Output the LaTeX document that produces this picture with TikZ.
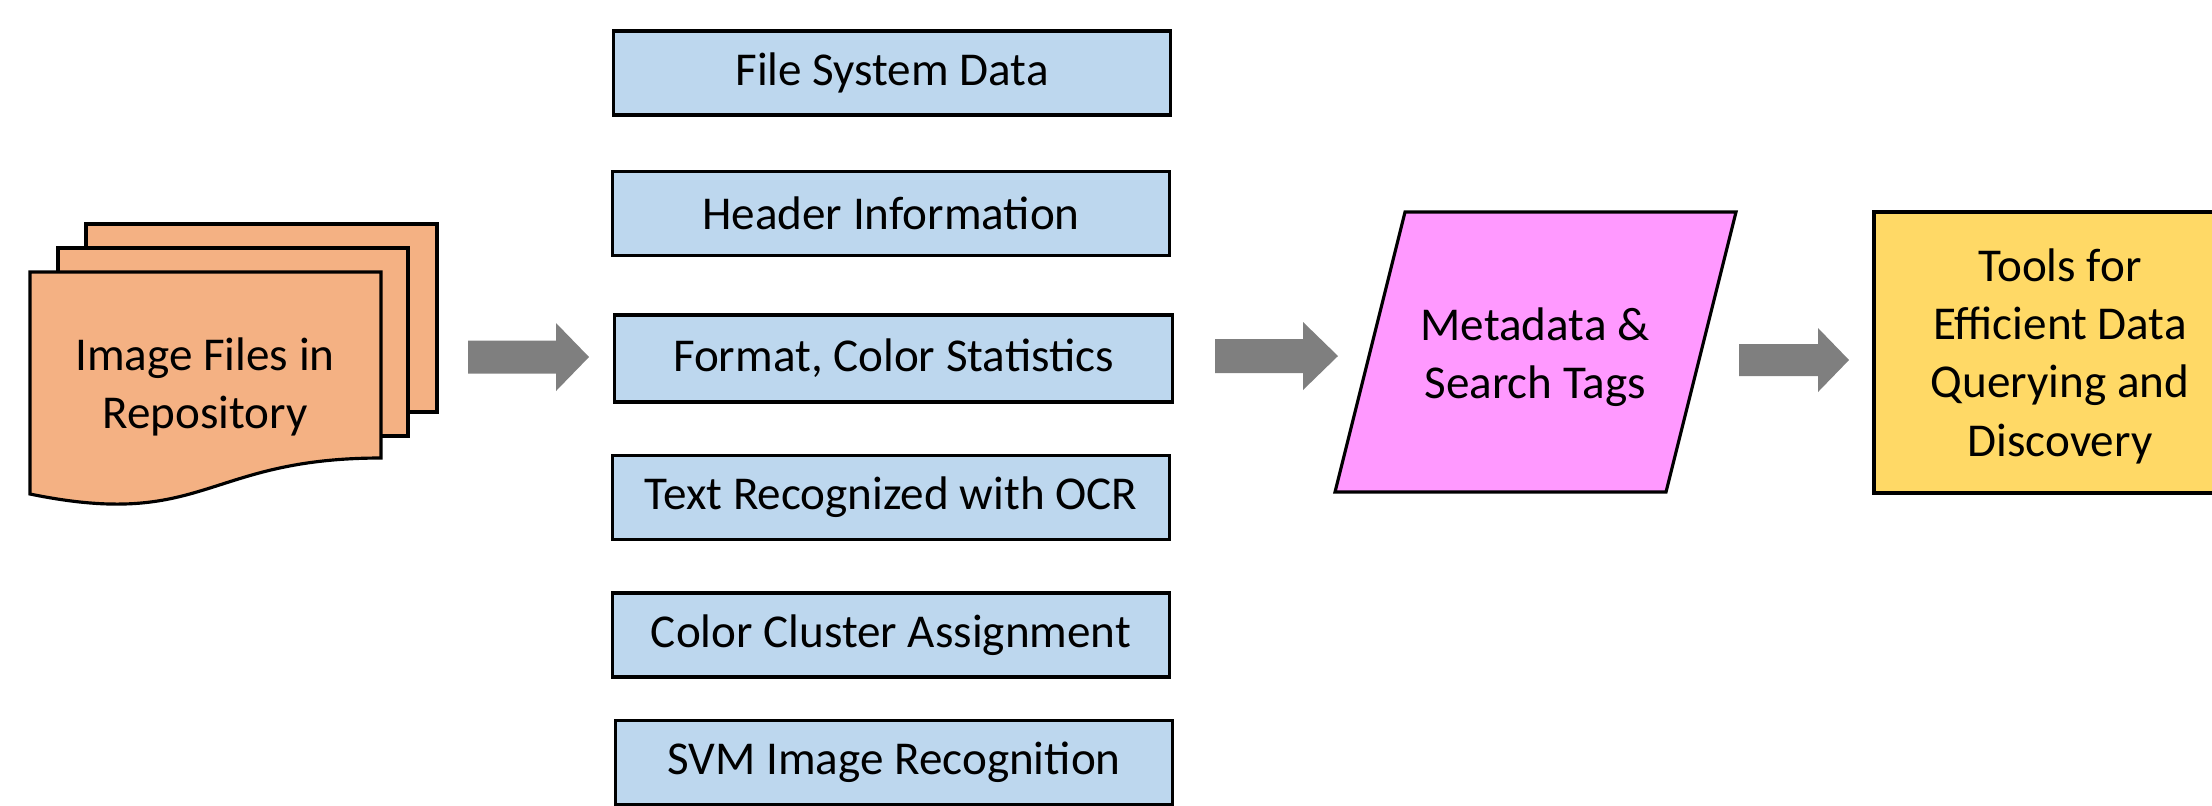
\documentclass[tikz,border=0pt]{standalone}
\usepackage{fontspec}
\setmainfont{Carlito}
\definecolor{docorange}{HTML}{F4B183}
\definecolor{boxblue}{HTML}{BDD7EE}
\definecolor{parapink}{HTML}{FF99FF}
\definecolor{toolyellow}{HTML}{FFD966}
\definecolor{arrowgray}{HTML}{7F7F7F}
\begin{document}
\begin{tikzpicture}[x=0.01cm,y=-0.01cm,
  outline/.style={draw=black,line width=0.9pt},
  lbl/.style={inner sep=0pt,align=center,font=\fontsize{13.4pt}{16.6pt}\selectfont},
  featbox/.style={outline,fill=boxblue,rectangle,inner sep=0pt,minimum width=5.57cm,minimum height=0.84cm,font=\fontsize{13.4pt}{16.6pt}\selectfont},
  blockarrow/.style={fill=arrowgray,draw=none}]
\useasboundingbox (0,0) rectangle (2212,805);
\clip (0,0) rectangle (2212,805);

% stacked documents
\filldraw[outline,fill=docorange] (86,224) rectangle (437,412);
\filldraw[outline,fill=docorange] (58,248) rectangle (408,436);
\filldraw[outline,fill=docorange] (30,272) -- (381,272) -- (381,458)
  .. controls (205,458) and (205,530) .. (30,494) -- cycle;
\node[lbl] (docs) at (205,387) {Image Files in\\Repository};

% feature boxes
\node[featbox] (fs)  at (892,73)    {\raisebox{-1.2pt}{File System Data}};
\node[featbox] (hdr) at (891,213.5) {\raisebox{-1.2pt}{Header Information}};
\node[featbox,minimum height=0.87cm] (fmt) at (893.5,358.5) {\raisebox{-1.2pt}{Format, Color Statistics}};
\node[featbox] (ocr) at (891,497.5) {\raisebox{-1.2pt}{Text Recognized with OCR}};
\node[featbox] (ccl) at (891,635)   {\raisebox{-1.2pt}{Color Cluster Assignment}};
\node[featbox] (svm) at (894,762.5) {\raisebox{-1.2pt}{SVM Image Recognition}};

% metadata parallelogram
\filldraw[outline,fill=parapink] (1405,212) -- (1736,212) -- (1666,492) -- (1335,492) -- cycle;
\node[lbl] (meta) at (1535,357) {Metadata \&\\Search Tags};

% tools box
\filldraw[outline,fill=toolyellow] (1874,212) rectangle (2246,493);
\node[lbl] (tools) at (2060,356) {Tools for\\Efficient Data\\Querying and\\Discovery};

% block arrows
\coordinate (a1) at (468,357);
\coordinate (a2) at (1215,356);
\coordinate (a3) at (1739,360);
\fill[blockarrow] (a1) ++(0,-16.5) -- ++(88,0) -- ++(0,-17.5) -- ++(33,34) -- ++(-33,34) -- ++(0,-17.5) -- ++(-88,0) -- cycle;
\fill[blockarrow] (a2) ++(0,-17) -- ++(88,0) -- ++(0,-17) -- ++(35,34) -- ++(-35,34) -- ++(0,-17) -- ++(-88,0) -- cycle;
\fill[blockarrow] (a3) ++(0,-16) -- ++(79,0) -- ++(0,-16) -- ++(31,32) -- ++(-31,32) -- ++(0,-16) -- ++(-79,0) -- cycle;
\end{tikzpicture}
\end{document}
